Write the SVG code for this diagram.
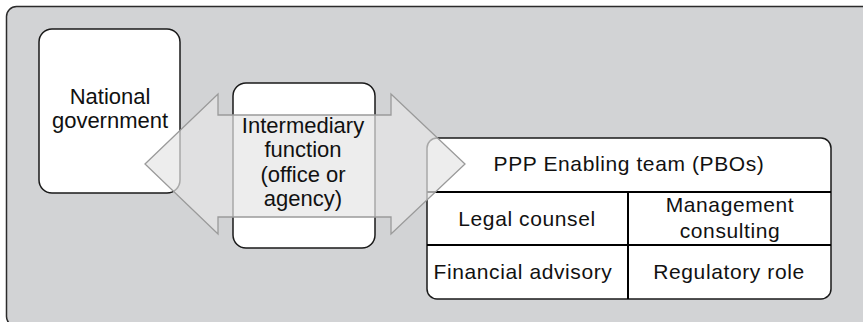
<svg xmlns="http://www.w3.org/2000/svg" width="863" height="322" viewBox="0 0 863 322">
  <style>
    .frame { fill: #d2d3d5; stroke: #2b2b2b; stroke-width: 1.5; }
    .box { fill: #ffffff; stroke: #1a1a1a; stroke-width: 1.5; }
    .rule { stroke: #000000; stroke-width: 2; fill: none; }
    .arrow { fill: #e6e6e6; fill-opacity: 0.7; stroke: #9a9a9a; stroke-width: 1.3; stroke-linejoin: miter; }
    .lbl { font-family: "Liberation Sans", Arial, sans-serif; font-size: 22px; fill: #111111; text-anchor: middle; }
    .cell { font-family: "Liberation Sans", Arial, sans-serif; font-size: 21px; fill: #111111; text-anchor: middle; letter-spacing: 0.6px; }
  </style>

  <!-- outer panel -->
  <rect class="frame" x="6.5" y="6.5" width="866" height="320" rx="10"/>

  <!-- national government -->
  <g id="national-government">
    <rect class="box" x="39" y="29" width="141" height="164" rx="13"/>
    <text class="lbl" x="110" y="104">National</text>
    <text class="lbl" x="110" y="128">government</text>
  </g>

  <!-- intermediary body (label drawn above the arrow) -->
  <g id="intermediary">
    <rect class="box" x="233" y="83" width="142" height="165" rx="13"/>
  </g>

  <!-- PPP enabling team table -->
  <g id="ppp-team">
    <rect class="box" x="427" y="138" width="404" height="161" rx="10"/>
    <line class="rule" x1="427" y1="192" x2="831" y2="192"/>
    <line class="rule" x1="427" y1="245" x2="831" y2="245"/>
    <line class="rule" x1="628" y1="192" x2="628" y2="299"/>
    <text class="cell" x="629" y="171">PPP Enabling team (PBOs)</text>
    <text class="cell" x="527" y="226">Legal counsel</text>
    <text class="cell" x="730" y="212">Management</text>
    <text class="cell" x="730" y="238">consulting</text>
    <text class="cell" x="523" y="279">Financial advisory</text>
    <text class="cell" x="729" y="279">Regulatory role</text>
  </g>

  <!-- two-way block arrow -->
  <g id="connectors">
    <path class="arrow" d="M145,164 L218,94 L218,115 L391,115 L391,94 L465,164 L391,234 L391,217 L218,217 L218,234 Z"/>
  </g>

  <g id="intermediary-label">
    <text class="lbl" x="303" y="133">Intermediary</text>
    <text class="lbl" x="303" y="157">function</text>
    <text class="lbl" x="303" y="182">(office or</text>
    <text class="lbl" x="303" y="206">agency)</text>
  </g>
</svg>
